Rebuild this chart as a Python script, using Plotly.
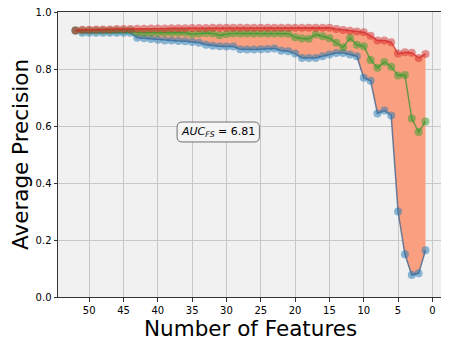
import plotly.graph_objects as go

n_features = list(range(52, 0, -1))

ap_red = [0.935, 0.938, 0.938, 0.939, 0.939, 0.939, 0.940, 0.940, 0.940, 0.941,
          0.941, 0.942, 0.942, 0.942, 0.943, 0.943, 0.943, 0.944, 0.944, 0.944,
          0.945, 0.945, 0.945, 0.945, 0.945, 0.945, 0.945, 0.945, 0.945, 0.945,
          0.945, 0.945, 0.945, 0.945, 0.945, 0.945, 0.945, 0.945, 0.940, 0.937,
          0.934, 0.932, 0.929, 0.917, 0.900, 0.900, 0.894, 0.854, 0.859, 0.857,
          0.839, 0.853]

ap_green = [0.935, 0.935, 0.935, 0.935, 0.935, 0.935, 0.935, 0.935, 0.935, 0.928,
            0.927, 0.927, 0.927, 0.927, 0.927, 0.927, 0.927, 0.922, 0.925, 0.926,
            0.925, 0.918, 0.922, 0.925, 0.925, 0.925, 0.925, 0.925, 0.925, 0.925,
            0.925, 0.924, 0.911, 0.907, 0.906, 0.921, 0.915, 0.908, 0.892, 0.876,
            0.909, 0.885, 0.880, 0.832, 0.804, 0.825, 0.808, 0.777, 0.779, 0.626,
            0.579, 0.616]

ap_blue = [0.935, 0.927, 0.927, 0.927, 0.927, 0.927, 0.927, 0.927, 0.927, 0.910,
           0.908, 0.905, 0.903, 0.900, 0.900, 0.898, 0.897, 0.895, 0.892, 0.885,
           0.882, 0.880, 0.879, 0.879, 0.869, 0.868, 0.868, 0.869, 0.870, 0.872,
           0.864, 0.862, 0.854, 0.839, 0.839, 0.839, 0.845, 0.851, 0.856, 0.856,
           0.851, 0.845, 0.769, 0.759, 0.644, 0.654, 0.637, 0.300, 0.150, 0.077,
           0.083, 0.164]

auc_text = "<i>AUC</i><sub><i>FS</i></sub> = 6.81"
x_title = "Number of Features"
y_title = "Average Precision"

x_ticks = [0, 5, 10, 15, 20, 25, 30, 35, 40, 45, 50]
y_ticks = [0.0, 0.2, 0.4, 0.6, 0.8, 1.0]

FONT = "DejaVu Sans"

fig = go.Figure()

# fill between best (red) and worst (blue)
fig.add_trace(go.Scatter(x=n_features, y=ap_red, mode="lines",
                         line=dict(width=0, color="rgba(0,0,0,0)"),
                         showlegend=False, hoverinfo="skip"))
fig.add_trace(go.Scatter(x=n_features, y=ap_blue, mode="lines",
                         line=dict(width=0, color="rgba(0,0,0,0)"),
                         fill="tonexty", fillcolor="rgb(250,160,128)",
                         showlegend=False, hoverinfo="skip"))

series = [
    (ap_blue, "rgba(31,119,180,0.5)", "rgba(70,100,140,0.8)"),
    (ap_green, "rgba(44,160,44,0.5)", "rgba(60,150,50,0.75)"),
    (ap_red, "rgba(214,39,40,0.5)", "rgba(214,39,40,0.75)"),
]
for ys, mcol, lcol in series:
    fig.add_trace(go.Scatter(
        x=n_features, y=ys, mode="lines+markers",
        line=dict(color=lcol, width=1.5),
        marker=dict(size=8, color=mcol, line=dict(width=0)),
        showlegend=False))

# rounded box around annotation
x0, x1 = 37.2, 25.2
y0, y1 = 0.544, 0.614
rx, ry = 0.75, 0.018
path = (f"M {x0 - rx},{y0} L {x1 + rx},{y0} Q {x1},{y0} {x1},{y0 + ry} "
        f"L {x1},{y1 - ry} Q {x1},{y1} {x1 + rx},{y1} L {x0 - rx},{y1} "
        f"Q {x0},{y1} {x0},{y1 - ry} L {x0},{y0 + ry} Q {x0},{y0} {x0 - rx},{y0} Z")
fig.add_shape(type="path", path=path, xref="x", yref="y",
              line=dict(color="rgb(110,110,110)", width=1),
              fillcolor="rgba(245,245,245,0.9)", layer="above")

fig.add_annotation(x=(x0 + x1) / 2, y=(y0 + y1) / 2, xref="x", yref="y",
                   text=auc_text, showarrow=False,
                   font=dict(family=FONT, size=11, color="black"))

# x-axis title placed as paper annotation for precise vertical position
fig.add_annotation(x=0.5, y=-0.112, xref="paper", yref="paper",
                   xanchor="center", yanchor="middle",
                   text=x_title, showarrow=False,
                   font=dict(family=FONT, size=21.5, color="black"))

axis_common = dict(showline=True, mirror=True, linecolor="#333333", linewidth=1,
                   ticks="outside", ticklen=3.5, tickwidth=1, tickcolor="#333333",
                   showgrid=True, gridcolor="rgb(200,200,200)", gridwidth=1,
                   zeroline=False, automargin=False, ticklabeloverflow="allow",
                   tickfont=dict(family=FONT, size=10, color="black"))

fig.update_xaxes(range=[54.55, -1.55], tickvals=x_ticks, **axis_common)
fig.update_yaxes(range=[0, 1.0], tickvals=y_ticks, tickformat=".1f",
                 title=dict(text=y_title,
                            font=dict(family=FONT, size=21.5, color="black"),
                            standoff=4),
                 **axis_common)

# the page body adds an 8px offset at top/left; size and margins compensate
fig.update_layout(width=441, height=341,
                  margin=dict(l=50, r=6, t=4, b=52),
                  paper_bgcolor="white", plot_bgcolor="rgb(241,241,241)",
                  showlegend=False)

fig.write_html("out.html")
